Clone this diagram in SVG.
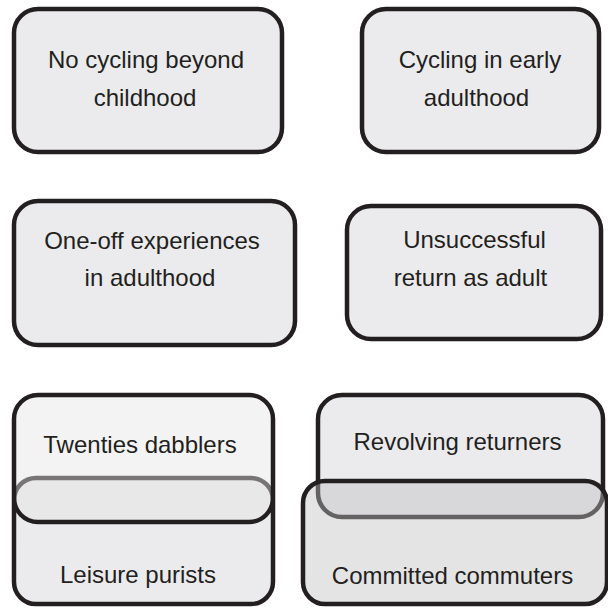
<svg xmlns="http://www.w3.org/2000/svg" width="608" height="608" viewBox="0 0 608 608">
<style>
.box{fill:#ebebed;stroke:#231f20;stroke-width:4.5}
.top{fill:#e4e4e4;fill-opacity:0.44;stroke:#231f20;stroke-width:4.5}
.over{fill:#bfbfc1;fill-opacity:0.42;stroke:#231f20;stroke-width:4.5}
text{font-family:"Liberation Sans",Arial,sans-serif;font-size:24px;fill:#231f20;text-anchor:middle}
</style>
<rect width="608" height="608" fill="#ffffff"/>
<g id="connectors"></g>
<g id="no-cycling">
<rect class="box" x="14" y="9" width="268" height="143" rx="24"/>
<text x="146" y="68">No cycling beyond</text>
<text x="145" y="106">childhood</text>
</g>
<g id="early-adulthood">
<rect class="box" x="362" y="9" width="237" height="143" rx="24"/>
<text x="480" y="68">Cycling in early</text>
<text x="476.5" y="106">adulthood</text>
</g>
<g id="one-off">
<rect class="box" x="14" y="201" width="281" height="144" rx="24"/>
<text x="152" y="249">One-off experiences</text>
<text x="150" y="286">in adulthood</text>
</g>
<g id="unsuccessful">
<rect class="box" x="347" y="206" width="254" height="133" rx="24"/>
<text x="474.5" y="248">Unsuccessful</text>
<text x="470.5" y="286">return as adult</text>
</g>
<g id="leisure-purists">
<rect class="box" x="14" y="478" width="259" height="126" rx="22"/>
<text x="138" y="583">Leisure purists</text>
</g>
<g id="twenties-dabblers">
<rect class="top" x="14" y="395" width="259" height="127" rx="24"/>
<text x="140" y="453">Twenties dabblers</text>
</g>
<g id="revolving-returners">
<rect class="box" x="318" y="395" width="285" height="122" rx="24"/>
<text x="457.5" y="450">Revolving returners</text>
</g>
<g id="committed-commuters">
<rect class="over" x="303" y="481" width="304" height="123" rx="22"/>
<text x="452.5" y="584">Committed commuters</text>
</g>
</svg>
